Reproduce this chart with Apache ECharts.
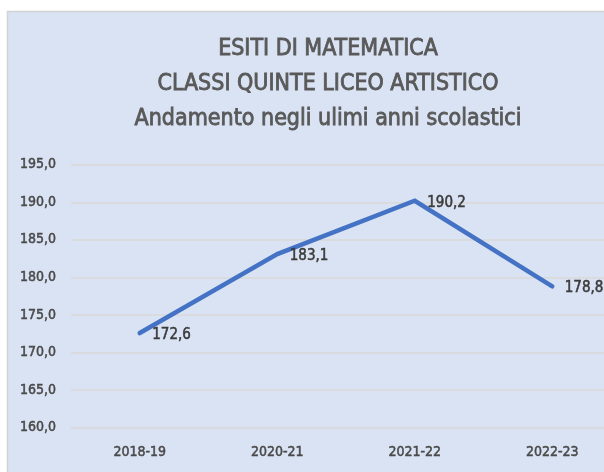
<!DOCTYPE html>
<html>
<head>
<meta charset="utf-8">
<script src="https://cdn.jsdelivr.net/npm/echarts@6/dist/echarts.min.js"></script>
<style>
  html, body { margin: 0; padding: 0; background: #ffffff; }
  #chart { width: 604px; height: 472px; }
</style>
</head>
<body>
<div id="chart"></div>
<script>
// School years and average mathematics results
const anni = ['2018-19', '2020-21', '2021-22', '2022-23'];
const esiti = [172.6, 183.1, 190.2, 178.8];
const titolo = ['ESITI DI MATEMATICA', 'CLASSI QUINTE LICEO ARTISTICO', 'Andamento negli ulimi anni scolastici'];

const FONT = '"Liberation Sans Narrow", "DejaVu Sans Condensed", "Noto Sans", sans-serif';
const fmt = v => v.toFixed(1).replace('.', ',');

const chart = echarts.init(document.getElementById('chart'), null, { renderer: 'canvas' });
chart.setOption({
  animation: false,
  backgroundColor: '#ffffff',
  graphic: [{
    type: 'rect',
    z: -10,
    shape: { x: 7.5, y: 11.5, width: 640, height: 480 },
    style: { fill: '#dae3f3', stroke: '#d3d3d3', lineWidth: 1.5 }
  }],
  title: {
    text: titolo.join('\n'),
    left: 323,
    top: 27,
    textAlign: 'center',
    textStyle: {
      fontFamily: FONT,
      fontSize: 23,
      fontWeight: 'normal',
      color: '#595959',
      textBorderColor: '#595959',
      textBorderWidth: 0.8,
      lineHeight: 35
    }
  },
  grid: {
    left: 71, top: 164.7, width: 550, height: 263,
    containLabel: false, outerBoundsMode: 'none'
  },
  xAxis: {
    type: 'category',
    data: anni,
    boundaryGap: true,
    axisLine: { show: false },
    axisTick: { show: false },
    axisLabel: {
      margin: 18,
      fontFamily: FONT,
      fontSize: 14,
      color: '#4a4a4a',
      textBorderColor: '#4a4a4a',
      textBorderWidth: 0.5
    }
  },
  yAxis: {
    type: 'value',
    min: 160,
    max: 195,
    interval: 5,
    axisLine: { show: false },
    axisTick: { show: false },
    splitLine: { lineStyle: { color: '#d9d9d9', width: 1.5 } },
    axisLabel: {
      margin: 15,
      fontFamily: FONT,
      fontSize: 14,
      color: '#4a4a4a',
      textBorderColor: '#4a4a4a',
      textBorderWidth: 0.5,
      formatter: v => fmt(v)
    }
  },
  series: [{
    type: 'line',
    data: esiti,
    symbol: 'circle',
    symbolSize: 1,
    itemStyle: { color: 'rgba(0,0,0,0)' },
    lineStyle: { color: '#4472c4', width: 4.5, cap: 'round', join: 'miter' },
    label: {
      show: true,
      position: 'right',
      distance: 12,
      offset: [0, 2],
      fontFamily: FONT,
      fontSize: 15,
      color: '#3a3a3a',
      textBorderColor: '#3a3a3a',
      textBorderWidth: 0.5,
      formatter: p => fmt(p.value)
    }
  }]
});
</script>
</body>
</html>
